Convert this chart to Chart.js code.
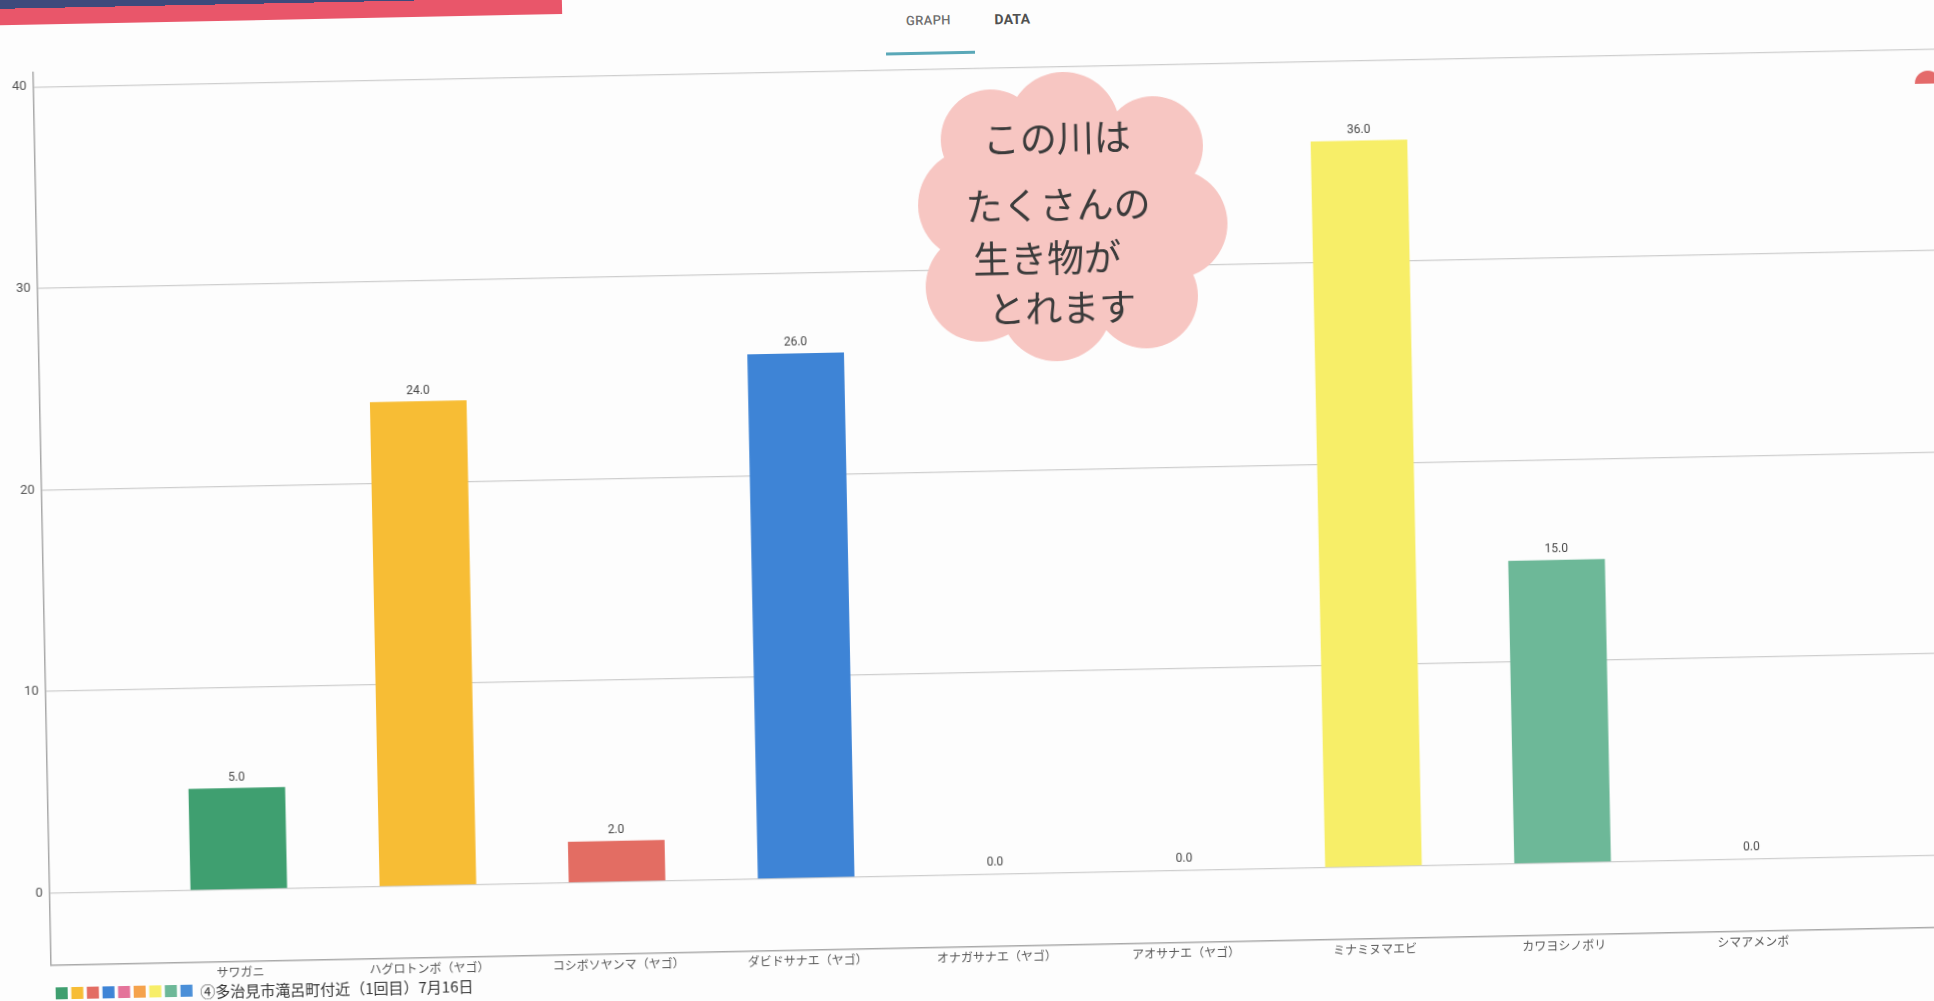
<!DOCTYPE html>
<html lang="ja">
<head>
<meta charset="utf-8">
<title>生き物調査 グラフ</title>
<script src="https://cdn.jsdelivr.net/npm/chart.js@4.4.1/dist/chart.umd.min.js"></script>
<style>
  html, body { margin: 0; padding: 0; width: 1934px; height: 1001px; overflow: hidden; background: #fdfdfd; }
  #sheet { position: absolute; left: 0; top: 0; width: 1934px; height: 1001px;
           transform-origin: 967px 500px; transform: rotate(-1.15deg); }
  #sheet canvas { position: absolute; left: 0; top: 0; }
  .band { position: absolute; left: -40px; top: -24px; width: 612px; height: 30px;
          background: linear-gradient(#3d4a7c 0 45%, #e9566a 45% 100%); }
  .tab { position: absolute; top: 12px; width: 80px; text-align: center;
         font-family: Roboto, sans-serif; letter-spacing: 0.3px; }
  .tab.on { left: 898px; font-size: 13px; font-weight: 500; color: #707070; }
  .tab.off { left: 982px; font-size: 14px; font-weight: 700; color: #505050; }
  .tabline { position: absolute; left: 895px; top: 51px; width: 89px; height: 3px; background: #5aa8b8; }
</style>
</head>
<body>
<div id="sheet">
  <div class="band"></div>
  <div class="tab on">GRAPH</div>
  <div class="tab off">DATA</div>
  <div class="tabline"></div>
  <canvas id="barchart" width="1960" height="1001"></canvas>
</div>
<script>
'use strict';
const categories = ['サワガニ', 'ハグロトンボ（ヤゴ）', 'コシボソヤンマ（ヤゴ）', 'ダビドサナエ（ヤゴ）',
    'オナガサナエ（ヤゴ）', 'アオサナエ（ヤゴ）', 'ミナミヌマエビ', 'カワヨシノボリ', 'シマアメンボ'];
const counts = [5, 24, 2, 26, 0, 0, 36, 15, 0];
const barColors = ['#3f9f70', '#f7bd35', '#e36d63', '#3e84d6', '#e4739a', '#f5a24c', '#f7ee68', '#6db898', '#4a8fd8'];
const yTicks = [0, 10, 20, 30, 40];
const seriesLabel = '④多治見市滝呂町付近（1回目）7月16日';
const noteLines = ['この川は', 'たくさんの', '生き物が', 'とれます'];

Chart.defaults.font.family = 'Roboto, "Noto Sans CJK JP", sans-serif';
Chart.defaults.color = '#555';

// numbers printed over each bar
const valueLabels = {
    id: 'valueLabels',
    afterDatasetsDraw(chart) {
        const ctx = chart.ctx;
        ctx.save();
        ctx.font = '12px Roboto, sans-serif';
        ctx.fillStyle = '#474747';
        ctx.textAlign = 'center';
        ctx.textBaseline = 'middle';
        chart.getDatasetMeta(0).data.forEach((bar, i) => {
            ctx.fillText(counts[i].toFixed(1), bar.x, bar.y - 11);
        });
        ctx.restore();
    }
};

// colour swatches + series name under the axis
const legendStrip = {
    id: 'legendStrip',
    afterDraw(chart) {
        const ctx = chart.ctx;
        const x0 = 46, y0 = 975, size = 12, step = 15.6;
        ctx.save();
        barColors.forEach((c, i) => {
            ctx.fillStyle = c;
            ctx.fillRect(x0 + i * step, y0 - size / 2, size, size);
        });
        ctx.font = '15px "Noto Sans CJK JP", sans-serif';
        ctx.fillStyle = '#333';
        ctx.textBaseline = 'middle';
        ctx.fillText(seriesLabel, x0 + barColors.length * step + 4, y0 + 1);
        ctx.restore();
    }
};

// pink cloud note stuck on the sheet
const cloudNote = {
    id: 'cloudNote',
    afterDraw(chart) {
        const ctx = chart.ctx;
        const cx = 1076, cy = 222;
        const lobes = [[-5, -92, 56], [84, -72, 50], [102, 6, 55], [74, 78, 52],
            [-16, 85, 56], [-91, 65, 55], [-96, -17, 56], [-78, -82, 50], [0, 0, 106]];
        ctx.save();
        ctx.fillStyle = '#f7c6c2';
        ctx.beginPath();
        lobes.forEach(([dx, dy, r]) => {
            ctx.moveTo(cx + dx + r, cy + dy);
            ctx.arc(cx + dx, cy + dy, r, 0, Math.PI * 2);
        });
        ctx.fill();
        ctx.font = '37px "Noto Sans CJK JP", sans-serif';
        ctx.fillStyle = '#3b3b3b';
        ctx.textAlign = 'center';
        ctx.textBaseline = 'middle';
        const rows = [[-12, -82], [-12, -15], [-24, 38], [-10, 88]];
        noteLines.forEach((t, i) => ctx.fillText(t, cx + rows[i][0], cy + rows[i][1]));

        // red button peeking at the top right
        ctx.fillStyle = '#e46a6a';
        ctx.beginPath();
        ctx.arc(1936, 103, 13, Math.PI, 0);
        ctx.fill();
        ctx.restore();
    }
};

new Chart(document.querySelector('#barchart'), {
    type: 'bar',
    data: {
        datasets: [{
            label: seriesLabel,
            data: counts.map((v, i) => ({ x: i, y: v })),
            // empty categories get no sliver on the zero line
            backgroundColor: c => counts[c.dataIndex] ? barColors[c.dataIndex] : 'transparent',
            borderWidth: 0,
            barThickness: 96
        }]
    },
    options: {
        responsive: false,
        animation: false,
        devicePixelRatio: 1,
        layout: { padding: { top: 54, left: 0, right: 0, bottom: 0 } },
        plugins: {
            legend: { display: false },
            tooltip: { enabled: false }
        },
        scales: {
            x: {
                type: 'linear',
                offset: false,
                min: -1,
                max: 9.14,
                afterBuildTicks: s => { s.ticks = categories.map((_, i) => ({ value: i })); },
                afterFit: s => { s.height = 54; },
                grid: { color: 'transparent', drawTicks: false, offset: false },
                border: { color: '#a9a9a9', width: 1.5 },
                ticks: {
                    autoSkip: false,
                    maxRotation: 0,
                    padding: 3,
                    color: '#585858',
                    font: { size: 12, family: '"Noto Sans CJK JP", sans-serif' },
                    callback: v => categories[v] ?? ''
                }
            },
            y: {
                min: -3.6,
                max: 40.7,
                afterBuildTicks: s => { s.ticks = yTicks.map(v => ({ value: v })); },
                afterFit: s => { s.width = 42; },
                grid: { color: '#cecece', lineWidth: 1.2, drawTicks: false },
                border: { color: '#a9a9a9', width: 1.5 },
                ticks: { padding: 7, color: '#555', font: { size: 13 } }
            }
        }
    },
    plugins: [valueLabels, legendStrip, cloudNote]
});
</script>
</body>
</html>
